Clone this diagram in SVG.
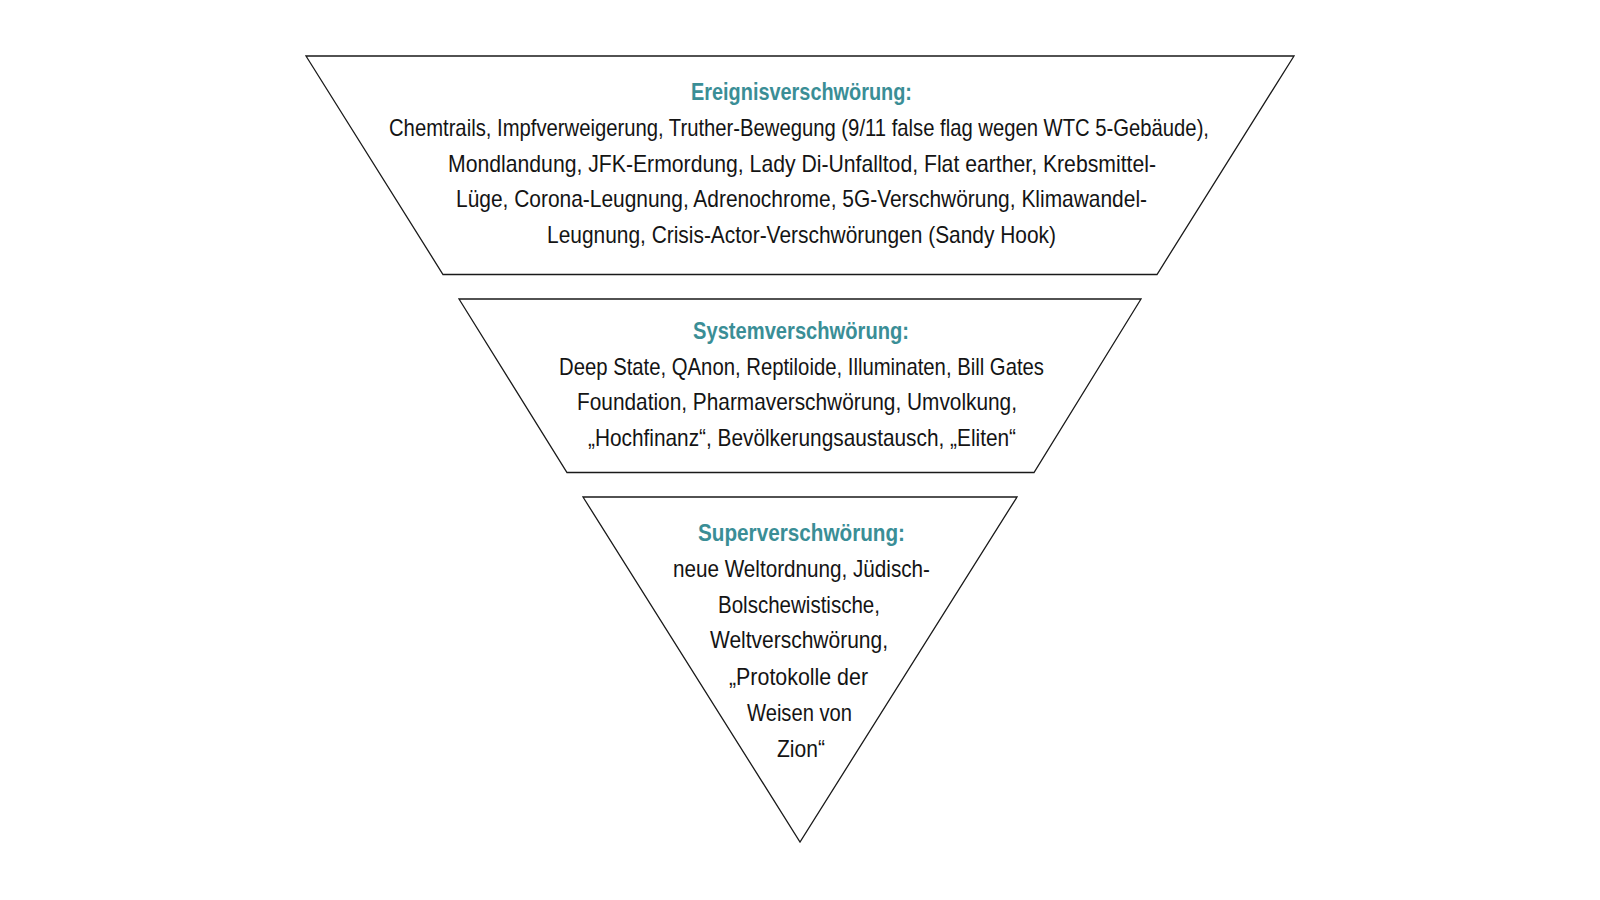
<svg xmlns="http://www.w3.org/2000/svg" width="1600" height="900" viewBox="0 0 1600 900">
<style>
  .shape { fill: #ffffff; stroke: #1a1a1a; stroke-width: 1.3; }
  text { font-family: "Liberation Sans Narrow", "Liberation Sans", Arial, sans-serif; font-size: 24px; text-anchor: middle; fill: #141414; }
  .title { fill: #3a8e96; font-weight: bold; }
</style>
<rect width="1600" height="900" fill="#ffffff"/>
<g id="ereignis">
  <polygon class="shape" points="306,56 1294,56 1157,274.5 443,274.5"/>
  <text class="title" x="801.5" y="100" textLength="221" lengthAdjust="spacingAndGlyphs">Ereignisverschwörung:</text>
  <text x="799" y="136" textLength="820" lengthAdjust="spacingAndGlyphs">Chemtrails, Impfverweigerung, Truther-Bewegung (9/11 false flag wegen WTC 5-Gebäude),</text>
  <text x="802" y="171.5" textLength="708" lengthAdjust="spacingAndGlyphs">Mondlandung, JFK-Ermordung, Lady Di-Unfalltod, Flat earther, Krebsmittel-</text>
  <text x="801.5" y="207" textLength="691" lengthAdjust="spacingAndGlyphs">Lüge, Corona-Leugnung, Adrenochrome, 5G-Verschwörung, Klimawandel-</text>
  <text x="801.5" y="242.5" textLength="509" lengthAdjust="spacingAndGlyphs">Leugnung, Crisis-Actor-Verschwörungen (Sandy Hook)</text>
</g>
<g id="system">
  <polygon class="shape" points="459,299 1141,299 1034,472.5 567,472.5"/>
  <text class="title" x="801" y="339" textLength="216" lengthAdjust="spacingAndGlyphs">Systemverschwörung:</text>
  <text x="801.5" y="374.5" textLength="485" lengthAdjust="spacingAndGlyphs">Deep State, QAnon, Reptiloide, Illuminaten, Bill Gates</text>
  <text x="797" y="410" textLength="440" lengthAdjust="spacingAndGlyphs">Foundation, Pharmaverschwörung, Umvolkung,</text>
  <text x="802" y="445.5" textLength="428" lengthAdjust="spacingAndGlyphs">„Hochfinanz“, Bevölkerungsaustausch, „Eliten“</text>
</g>
<g id="super">
  <polygon class="shape" points="583,497 1017,497 800,842"/>
  <text class="title" x="801.5" y="541" textLength="207" lengthAdjust="spacingAndGlyphs">Superverschwörung:</text>
  <text x="801.5" y="577" textLength="257" lengthAdjust="spacingAndGlyphs">neue Weltordnung, Jüdisch-</text>
  <text x="799" y="612.5" textLength="162" lengthAdjust="spacingAndGlyphs">Bolschewistische,</text>
  <text x="799" y="648" textLength="178" lengthAdjust="spacingAndGlyphs">Weltverschwörung,</text>
  <text x="798.5" y="684.5" textLength="139" lengthAdjust="spacingAndGlyphs">„Protokolle der</text>
  <text x="799.5" y="720.5" textLength="105" lengthAdjust="spacingAndGlyphs">Weisen von</text>
  <text x="801" y="756.5" textLength="48" lengthAdjust="spacingAndGlyphs">Zion“</text>
</g>
<g id="connectors"></g>
</svg>
